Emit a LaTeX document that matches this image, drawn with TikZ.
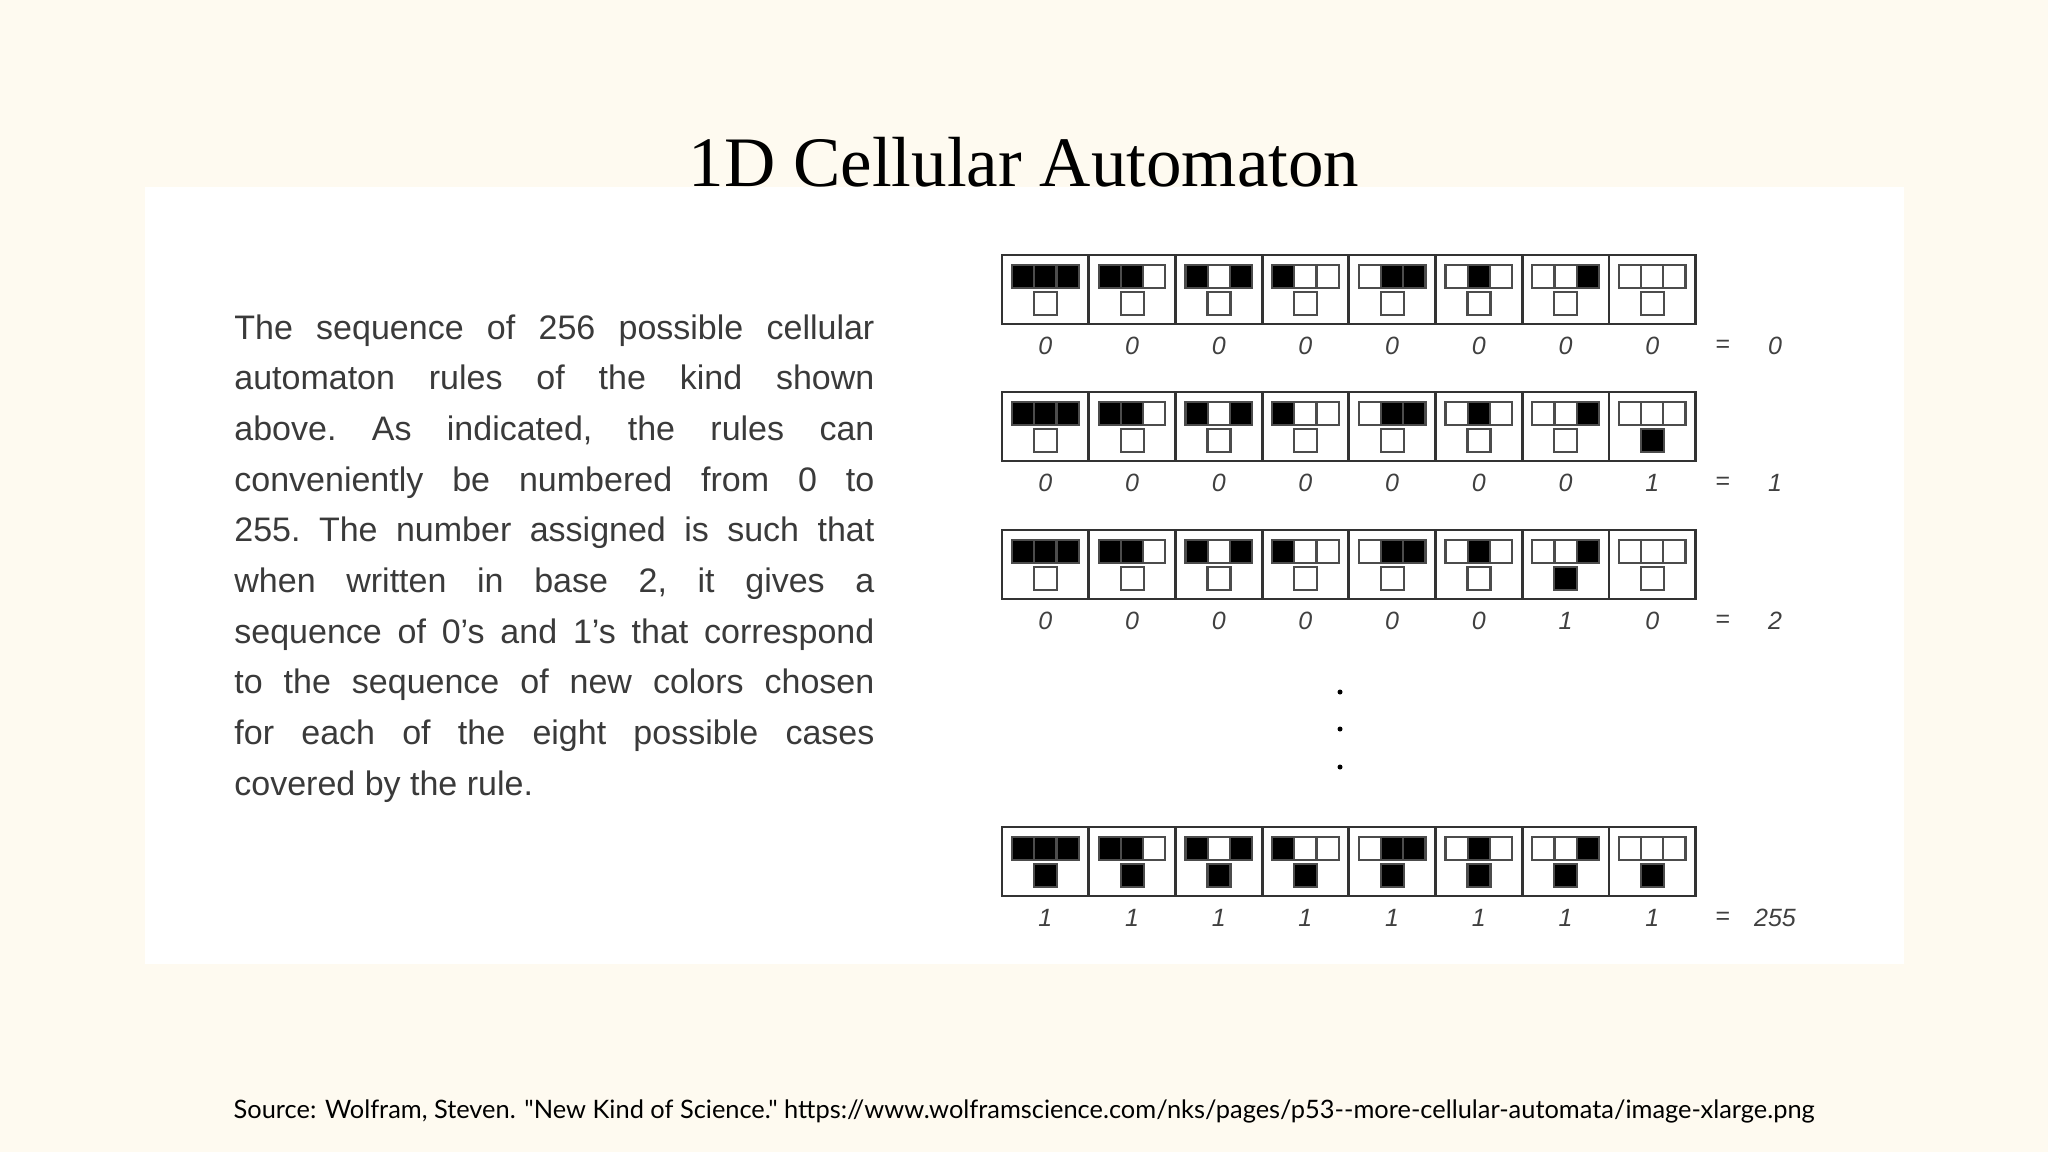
\documentclass[tikz,border=0pt]{standalone}
\usepackage{fontspec}
\setmainfont{Liberation Serif}
\newfontfamily\srcfont{Lato}
\newfontfamily\parfont{Liberation Sans}
\definecolor{bgc}{HTML}{FEFAF0}
\definecolor{txt}{HTML}{3A3A3A}
\tikzset{cellbox/.style={draw=black!80,line width=1.4pt},
 sq/.style={draw=black!70,line width=1.1pt},
 digit/.style={font=\parfont\itshape\fontsize{12.5}{14}\selectfont,text=black!75}}
\begin{document}
\begin{tikzpicture}[x=0.5pt,y=-0.5pt]
\fill[bgc] (0,0) rectangle (2048,1152);
\useasboundingbox (0,0) rectangle (2048,1152);
\fill[white] (145,187) rectangle (1904,964);
\node[font=\fontsize{35.5}{42}\selectfont] (title) at (1024,162) {1D Cellular Automaton};
\node[anchor=north west,inner sep=0pt,text width=320pt,align=justify,text=txt,
 font=\parfont\fontsize{17}{25.35}\selectfont] (para) at (234,314)
 {\frenchspacing\hyphenpenalty=10000 The sequence of 256 possible cellular\linebreak automaton rules of the kind shown\linebreak above. As indicated, the rules can\linebreak conveniently be numbered from 0 to\linebreak 255. The number assigned is such that\linebreak when written in base 2, it gives a\linebreak sequence of 0’s and 1’s that correspond\linebreak to the sequence of new colors chosen\linebreak for each of the eight possible cases\linebreak covered by the rule.\par};
\foreach \rn/\ry/\val in {0/255/0,1/392/1,2/530/2,255/827/255}{
  \foreach \i in {0,...,7}{
    \pgfmathsetmacro{\cx}{1002+86.7*\i}
    \pgfmathtruncatemacro{\case}{7-\i}
    \draw[cellbox] (\cx,\ry) rectangle ++(86.7,69);
    \foreach \j in {0,1,2}{
      \pgfmathtruncatemacro{\b}{mod(floor(\case/2^(2-\j)),2)}
      \ifnum\b=1 \def\fc{black}\else\def\fc{white}\fi
      \draw[sq,fill=\fc] (\cx+10+22.2*\j,\ry+10) rectangle ++(22.2,23);
    }
    \pgfmathtruncatemacro{\nb}{mod(floor(\rn/2^\case),2)}
    \ifnum\nb=1 \def\fc{black}\else\def\fc{white}\fi
    \draw[sq,fill=\fc] (\cx+32,\ry+37) rectangle ++(23,23);
    \node[digit] (d\rn-\i) at (\cx+43.3,\ry+91) {\nb};
  }
  \node[digit,font=\parfont\fontsize{12.5}{14}\selectfont] (eq\rn) at (1723,\ry+91) {=};
  \node[digit] (v\rn) at (1775,\ry+91) {\val};
}
\foreach \yy in {692,729,767}{\fill (1340,\yy) circle (2.5);}
\node[font=\srcfont\fontsize{12.7}{14}\selectfont] (src) at (1024,1111)
 {Source: Wolfram, Steven. "New Kind of Science." https://www.wolframscience.com/nks/pages/p53--more-cellular-automata/image-xlarge.png};
\end{tikzpicture}
\end{document}
